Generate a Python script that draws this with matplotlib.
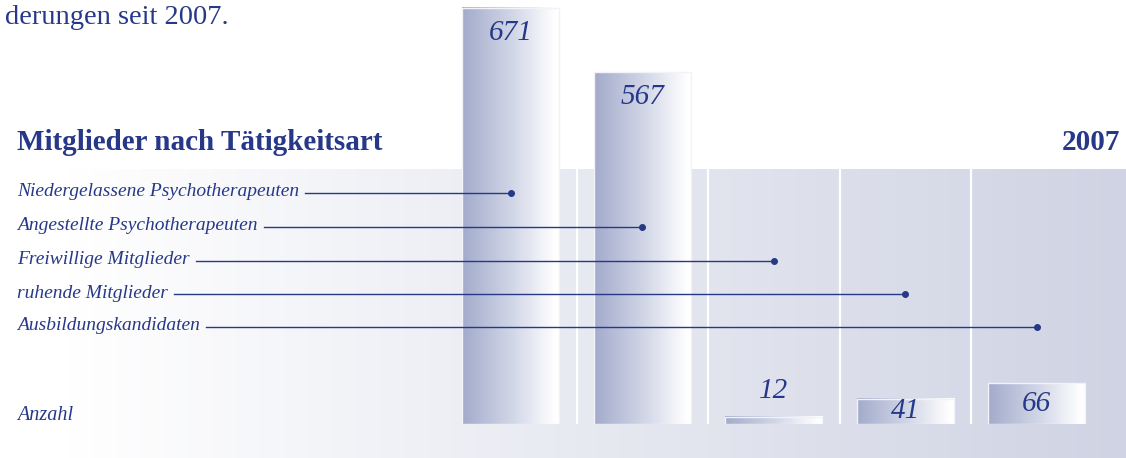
import numpy as np
import matplotlib
matplotlib.use("Agg")
import matplotlib.pyplot as plt
import matplotlib.transforms as mtransforms
from matplotlib.colors import LinearSegmentedColormap

# data
categories = ["Niedergelassene Psychotherapeuten", "Angestellte Psychotherapeuten",
              "Freiwillige Mitglieder", "ruhende Mitglieder", "Ausbildungskandidaten"]
values = [671, 567, 12, 41, 66]
year_label = "2007"
title = "Mitglieder nach Tätigkeitsart"
intro = "derungen seit 2007."
unit_label = "Anzahl"

W, H = 1126, 458
navy = "#263887"
serif = ["Liberation Serif", "DejaVu Serif"]

fig = plt.figure(figsize=(W / 100, H / 100), dpi=100)

# background panel with horizontal gradient
bg = fig.add_axes([0, 0, 1, 1])
bg.set_xlim(0, 1)
bg.set_ylim(0, 1)
bg.axis("off")
panel_cmap = LinearSegmentedColormap.from_list(
    "panel", [(0, "#ffffff"), (0.06, "#ffffff"), (1, "#cfd3e3")])
grad = np.linspace(0, 1, 512).reshape(1, -1)
bg.imshow(grad, cmap=panel_cmap, extent=(0, 1, 0, (H - 169) / H),
          aspect="auto", zorder=0)

# bar axes
ax = fig.add_axes([445 / W, 34 / H, 657.5 / W, 424 / H])
ax.set_xlim(-0.5, len(values) - 0.5)
ax.set_ylim(0, 424 / 0.62)
ax.axis("off")
ax.patch.set_alpha(0)

# separators
panel_top = (424 - 169) / 424
for i in range(len(values) - 1):
    ax.axvline(i + 0.5, ymin=-0.003, ymax=panel_top, color="white", lw=1.6, zorder=1)

bar_cmap = LinearSegmentedColormap.from_list(
    "bar", [(0, "#a3abcb"), (0.5, "#d0d5e6"), (0.95, "#ffffff"), (1, "#ffffff")])
bw = 0.74
for i, v in enumerate(values):
    ax.imshow(grad, cmap=bar_cmap, extent=(i - bw / 2, i + bw / 2, 0, v),
              aspect="auto", zorder=2)
    ax.bar(i, v, width=bw, facecolor="none", edgecolor="#f2f3f8", lw=1.0, zorder=3)

# value labels
vfont = dict(family=serif, style="italic", fontsize=21, color=navy, ha="center")
for i, v in enumerate(values):
    if v > 200:
        ax.annotate(str(v), (i, v), xytext=(0, -18), textcoords="offset points",
                    va="center", **vfont)
    elif v >= 30:
        ax.annotate(str(v), (i, v / 2), va="center", **vfont)
    else:
        ax.annotate(str(v), (i, v), xytext=(0, 9), textcoords="offset points",
                    va="bottom", **vfont)

# texts
fig.text(5 / W, 1 - 18 / H, intro, family=serif, fontsize=20.5, color=navy, va="center")
fig.text(17 / W, 1 - 143 / H, title, family=serif, fontsize=21, weight="bold",
         color=navy, va="center")
fig.text(1120 / W, 1 - 143 / H, year_label, family=serif, fontsize=21, weight="bold",
         color=navy, va="center", ha="right")
fig.text(17 / W, 1 - 416 / H, unit_label, family=serif, style="italic", fontsize=14.5,
         color=navy, va="center")

row_y = [192, 226, 260, 293, 326]
labels = []
for name, ry in zip(categories, row_y):
    labels.append(fig.text(17 / W, 1 - ry / H, name, family=serif, style="italic",
                           fontsize=14, color=navy, va="center"))

fig.canvas.draw()
renderer = fig.canvas.get_renderer()
trans = mtransforms.blended_transform_factory(ax.transData, fig.transFigure)
inv = ax.transData.inverted()
for i, (t, ry) in enumerate(zip(labels, row_y)):
    x0 = inv.transform((t.get_window_extent(renderer).x1 + 6, 0))[0]
    yf = 1 - (ry + 1) / H
    ax.plot([x0, i], [yf, yf], transform=trans, color=navy, lw=1.0, zorder=4,
            clip_on=False)
    ax.plot([i], [yf], transform=trans, marker="o", ms=4, color=navy, zorder=4,
            clip_on=False)

fig.savefig("out.png", dpi=100)
